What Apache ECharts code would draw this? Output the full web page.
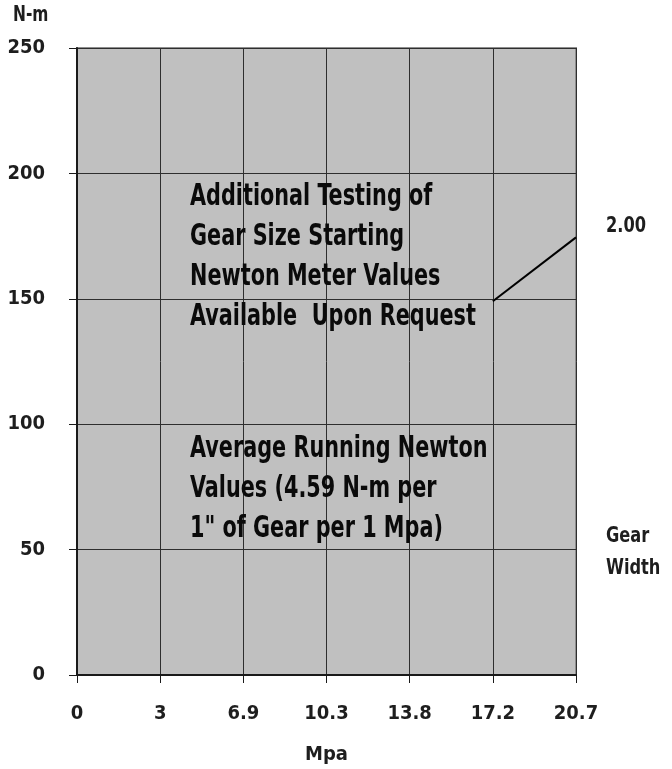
<!DOCTYPE html>
<html>
<head>
<meta charset="utf-8">
<script src="https://cdn.jsdelivr.net/npm/echarts@6/dist/echarts.min.js"></script>
<style>
  html, body { margin: 0; padding: 0; background: #fff; }
  #chart { width: 672px; height: 769px; }
</style>
</head>
<body>
<div id="chart"></div>
<script>
// 数据
const mpaLabels = ['0', '3', '6.9', '10.3', '13.8', '17.2', '20.7'];
const gearWidth200 = [null, null, null, null, null, 149, 174.5];
const seriesName = '2.00';
const noteTesting = ['Additional Testing of', 'Gear Size Starting', 'Newton Meter Values', 'Available  Upon Request'];
const noteAverage = ['Average Running Newton', 'Values (4.59 N-m per', '1" of Gear per 1 Mpa)'];

const font = "'DejaVu Sans Condensed', 'Liberation Sans Narrow', sans-serif";
const txt = '#1e1e1e';

const chart = echarts.init(document.querySelector('#chart'));
chart.setOption({
    animation: false,
    grid: {
        left: 77,
        right: 96,
        top: 48,
        bottom: 94,
        outerBoundsMode: 'none',
        containLabel: false,
        show: true,
        backgroundColor: '#c0c0c0',
        borderColor: '#8e8e8e',
        borderWidth: 2
    },
    xAxis: {
        type: 'category',
        boundaryGap: false,
        data: mpaLabels,
        name: 'Mpa',
        nameLocation: 'middle',
        nameGap: 70,
        nameTextStyle: {
            fontFamily: font,
            fontWeight: 'bold',
            fontSize: 20,
            color: txt
        },
        axisLine: {
            lineStyle: { color: '#1a1a1a', width: 2 }
        },
        axisTick: {
            length: 8,
            lineStyle: { color: '#1a1a1a' }
        },
        axisLabel: {
            margin: 29,
            fontFamily: font,
            fontWeight: 'bold',
            fontSize: 20,
            color: txt
        },
        splitLine: {
            show: true,
            lineStyle: { color: '#2e2e2e', width: 1 }
        }
    },
    yAxis: {
        type: 'value',
        min: 0,
        max: 250,
        interval: 50,
        axisLine: {
            show: true,
            lineStyle: { color: '#1a1a1a', width: 2 }
        },
        axisTick: {
            show: true,
            length: 8,
            lineStyle: { color: '#1a1a1a' }
        },
        axisLabel: {
            margin: 32,
            fontFamily: font,
            fontWeight: 'bold',
            fontSize: 20,
            color: txt
        },
        splitLine: {
            lineStyle: { color: '#2e2e2e', width: 1 }
        }
    },
    series: [
        {
            name: seriesName,
            type: 'line',
            data: gearWidth200,
            symbol: 'none',
            connectNulls: false,
            lineStyle: { color: '#000', width: 2 }
        }
    ],
    graphic: [
        {
            type: 'text', x: 13, y: 4, scaleX: 0.78,
            style: { text: 'N-m', font: 'bold 22px ' + font, fill: txt }
        },
        {
            type: 'text', x: 606, y: 215, scaleX: 0.82,
            style: { text: seriesName, font: 'bold 22px ' + font, fill: txt }
        },
        {
            type: 'text', x: 606, y: 520, scaleX: 0.82,
            style: { text: 'Gear\nWidth', font: 'bold 22px ' + font, fill: txt, lineHeight: 32 }
        },
        {
            type: 'text', x: 190, y: 177, z: 10, scaleX: 0.77,
            style: { text: noteTesting.join('\n'), font: 'bold 30px ' + font, fill: '#0a0a0a', lineHeight: 40 }
        },
        {
            type: 'text', x: 190, y: 429, z: 10, scaleX: 0.77,
            style: { text: noteAverage.join('\n'), font: 'bold 30px ' + font, fill: '#0a0a0a', lineHeight: 40 }
        }
    ]
});
</script>
</body>
</html>
